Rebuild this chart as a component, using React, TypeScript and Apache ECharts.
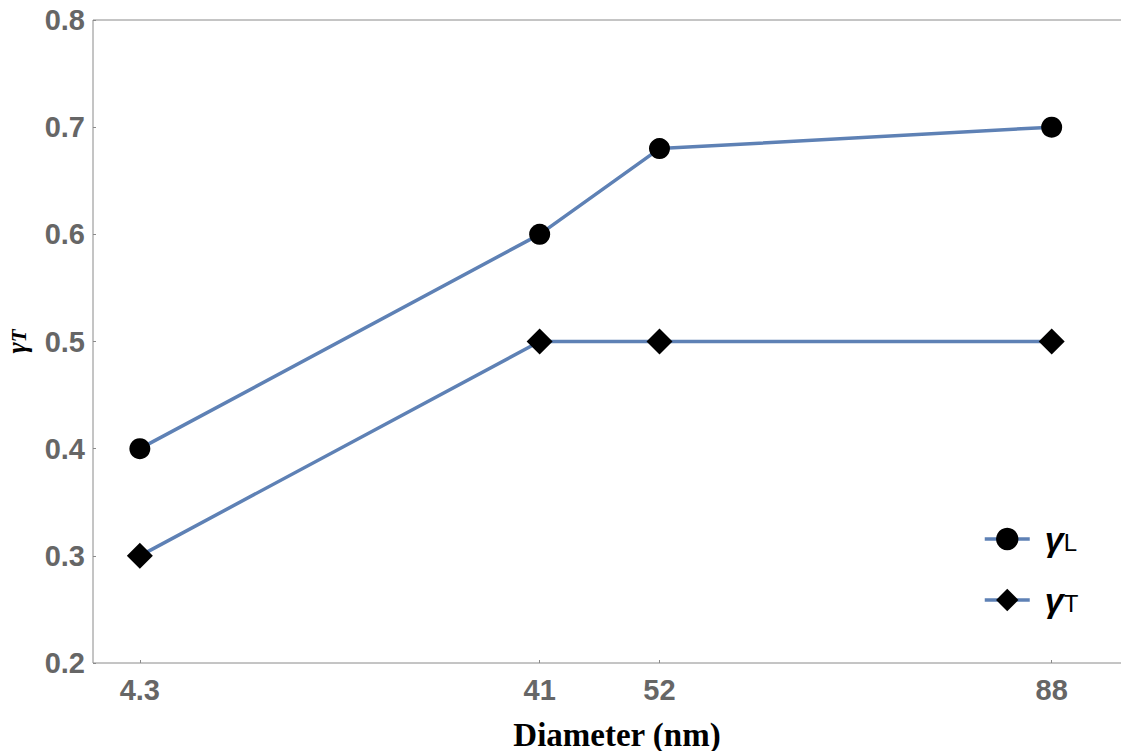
import React, { useEffect, useRef } from "react";
import * as echarts from "echarts";

const diameters = [4.3, 41, 52, 88];
const gammaL = [0.4, 0.6, 0.68, 0.7];
const gammaT = [0.3, 0.5, 0.5, 0.5];
const xTickValues = [4.3, 41, 52, 88];
const seriesNames = ["γL", "γT"];

const LINE_COLOR = "#5e81b5";
const TICK_COLOR = "#666666";
const FRAME_COLOR = "#8a8a8a";

export default function App() {
  const ref = useRef<HTMLDivElement>(null);
  useEffect(() => {
    if (!ref.current) return;
    const chart = echarts.init(ref.current, null, { renderer: "svg" });
    const toPairs = (ys: number[]) => diameters.map((x, i) => [x, ys[i]]);
    chart.setOption({
      animation: false,
      backgroundColor: "#ffffff",
      grid: {
        left: 93,
        right: -20,
        top: 20,
        bottom: 88,
        containLabel: false,
        outerBoundsMode: "none",
        show: true,
        borderColor: FRAME_COLOR,
        borderWidth: 1,
        backgroundColor: "transparent",
      },
      xAxis: {
        type: "value",
        min: 0,
        max: 96.2,
        name: "Diameter (nm)",
        nameLocation: "middle",
        nameGap: 55,
        nameTextStyle: {
          fontFamily: "Liberation Serif",
          fontWeight: "bold",
          fontSize: 33,
          color: "#000000",
        },
        axisLine: { show: false },
        splitLine: { show: false },
        axisTick: {
          show: true,
          inside: true,
          length: 3,
          customValues: xTickValues,
          lineStyle: { color: FRAME_COLOR },
        },
        axisLabel: {
          customValues: xTickValues,
          margin: 12,
          fontFamily: "Liberation Sans",
          fontWeight: "bold",
          fontSize: 29,
          color: TICK_COLOR,
          formatter: (v: number) => String(v),
        },
      },
      yAxis: {
        type: "value",
        min: 0.2,
        max: 0.8,
        interval: 0.1,
        name: "{g|γ}{s|T}",
        nameLocation: "middle",
        nameRotate: 90,
        nameGap: 64,
        nameTextStyle: {
          rich: {
            g: {
              fontFamily: "Liberation Serif",
              fontStyle: "italic",
              fontWeight: "bold",
              fontSize: 27,
              color: "#000000",
              lineHeight: 24,
            },
            s: {
              fontFamily: "Liberation Serif",
              fontStyle: "italic",
              fontWeight: "bold",
              fontSize: 21,
              color: "#000000",
              verticalAlign: "bottom",
              lineHeight: 24,
            },
          },
        },
        axisLine: { show: false },
        splitLine: { show: false },
        axisTick: {
          show: true,
          inside: true,
          length: 3,
          lineStyle: { color: FRAME_COLOR },
        },
        axisLabel: {
          margin: 8,
          fontFamily: "Liberation Sans",
          fontWeight: "bold",
          fontSize: 29,
          color: TICK_COLOR,
          formatter: (v: number) => v.toFixed(1),
        },
      },
      legend: {
        orient: "vertical",
        left: 978,
        top: 517,
        itemWidth: 45,
        itemHeight: 28,
        itemGap: 27,
        data: seriesNames,
        lineStyle: { width: 3.5, color: LINE_COLOR },
        formatter: (name: string) => "{g|γ}{s|" + name.slice(1) + "}",
        textStyle: {
          padding: [0, 0, 0, 10],
          rich: {
            g: {
              fontFamily: "Liberation Sans",
              fontWeight: "bold",
              fontStyle: "italic",
              fontSize: 34,
              color: "#000000",
              lineHeight: 30,
            },
            s: {
              fontFamily: "Liberation Sans",
              fontSize: 24,
              color: "#000000",
              verticalAlign: "bottom",
              lineHeight: 30,
            },
          },
        },
      },
      series: [
        {
          name: seriesNames[0],
          type: "line",
          data: toPairs(gammaL),
          symbol: "circle",
          symbolSize: 21,
          lineStyle: { color: LINE_COLOR, width: 3.5 },
          itemStyle: { color: "#000000" },
        },
        {
          name: seriesNames[1],
          type: "line",
          data: toPairs(gammaT),
          symbol: "diamond",
          symbolSize: 26,
          lineStyle: { color: LINE_COLOR, width: 3.5 },
          itemStyle: { color: "#000000" },
        },
      ],
    });
    return () => chart.dispose();
  }, []);
  return (
    <div
      ref={ref}
      style={{ position: "absolute", left: 0, top: 0, width: 1121, height: 751, background: "#fff" }}
    />
  );
}
